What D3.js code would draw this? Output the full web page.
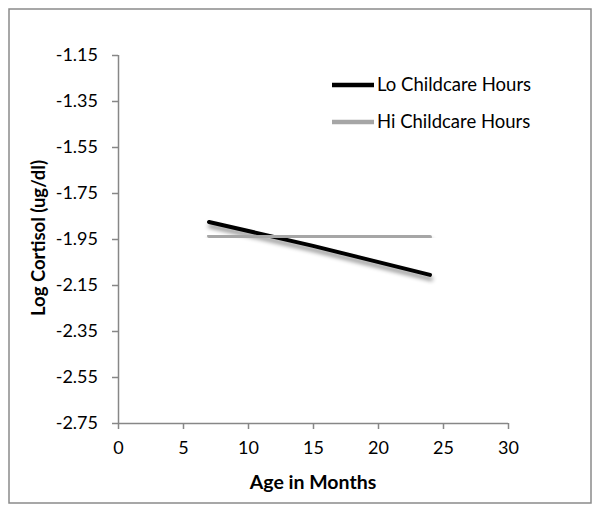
<!DOCTYPE html>
<html>
<head>
<meta charset="utf-8">
<script src="https://cdn.jsdelivr.net/npm/d3@7"></script>
<style>
  html, body { margin: 0; padding: 0; background: #fff; }
  svg { display: block; font-family: Lato, "Open Sans", sans-serif; }
</style>
</head>
<body>
<svg id="chart" width="601" height="513"></svg>
<script>
const ages = [7, 15, 24];
const loChildcare = [-1.876, -1.98, -2.106];
const hiChildcare = [-1.937, -1.939, -1.941];
const seriesNames = ["Lo Childcare Hours", "Hi Childcare Hours"];
const yTicks = [-1.15, -1.35, -1.55, -1.75, -1.95, -2.15, -2.35, -2.55, -2.75];
const xTicks = [0, 5, 10, 15, 20, 25, 30];

const svg = d3.select("#chart");
const defs = svg.append("defs");
const f = defs.append("filter").attr("id", "shadow").attr("x", "-10%").attr("y", "-50%").attr("width", "120%").attr("height", "250%");
f.append("feDropShadow").attr("dx", 1).attr("dy", 4).attr("stdDeviation", 2)
  .attr("flood-color", "#000").attr("flood-opacity", 0.45);

// outer border
svg.append("rect").attr("x", 9).attr("y", 9).attr("width", 582).attr("height", 494)
  .attr("fill", "#fff").attr("stroke", "#8a8a8a").attr("stroke-width", 1.5);

const x = d3.scaleLinear().domain([0, 30]).range([118, 508]);
const y = d3.scaleLinear().domain([-2.75, -1.15]).range([423, 55]);

const axisColor = "#878787";
const fmtY = d => d3.format(".2f")(d).replace("\u2212", "-");

const yAxis = svg.append("g").attr("transform", "translate(118,0)")
  .call(d3.axisLeft(y).tickValues(yTicks).tickFormat(fmtY).tickSize(6).tickPadding(14));
const xAxis = svg.append("g").attr("transform", "translate(0,423)")
  .call(d3.axisBottom(x).tickValues(xTicks).tickFormat(d3.format("d")).tickSize(6).tickPadding(12));

[yAxis, xAxis].forEach(g => {
  g.select(".domain").attr("stroke", axisColor).attr("stroke-width", 1.5);
  g.selectAll(".tick line").attr("stroke", axisColor).attr("stroke-width", 1.5);
  g.selectAll(".tick text").attr("fill", "#000").style("font-size", "18px")
    .style("font-family", "Lato, 'Open Sans', sans-serif");
});
xAxis.select(".domain").attr("d", `M118,0.5H508`);
yAxis.select(".domain").attr("d", `M0.5,55V423`);

const line = d3.line().x(d => x(d[0])).y(d => y(d[1]));

const data = [
  { name: seriesNames[0], vals: loChildcare, color: "#000000" },
  { name: seriesNames[1], vals: hiChildcare, color: "#a6a6a6" }
];

data.forEach(s => {
  svg.append("path")
    .datum(ages.map((a, i) => [a, s.vals[i]]))
    .attr("d", line)
    .attr("fill", "none")
    .attr("stroke", s.color)
    .attr("stroke-width", 4)
    .attr("stroke-linecap", "round")
    .attr("filter", "url(#shadow)");
});

// legend
const legend = [
  { name: seriesNames[0], color: "#000000", y: 85 },
  { name: seriesNames[1], color: "#a6a6a6", y: 122 }
];
legend.forEach(l => {
  svg.append("line").attr("x1", 332).attr("x2", 374).attr("y1", l.y).attr("y2", l.y)
    .attr("stroke", l.color).attr("stroke-width", 4.5);
  svg.append("text").attr("x", 377).attr("y", l.y).attr("dy", "0.35em")
    .style("font-size", "18.5px").attr("fill", "#000").text(l.name);
});

// axis titles
svg.append("text").attr("x", 313).attr("y", 489).attr("text-anchor", "middle")
  .style("font-size", "19.5px").style("font-weight", "bold").text("Age in Months");
svg.append("text").attr("transform", "translate(45,238) rotate(-90)").attr("text-anchor", "middle")
  .style("font-size", "18.5px").style("font-weight", "bold").text("Log Cortisol (ug/dl)");
</script>
</body>
</html>
